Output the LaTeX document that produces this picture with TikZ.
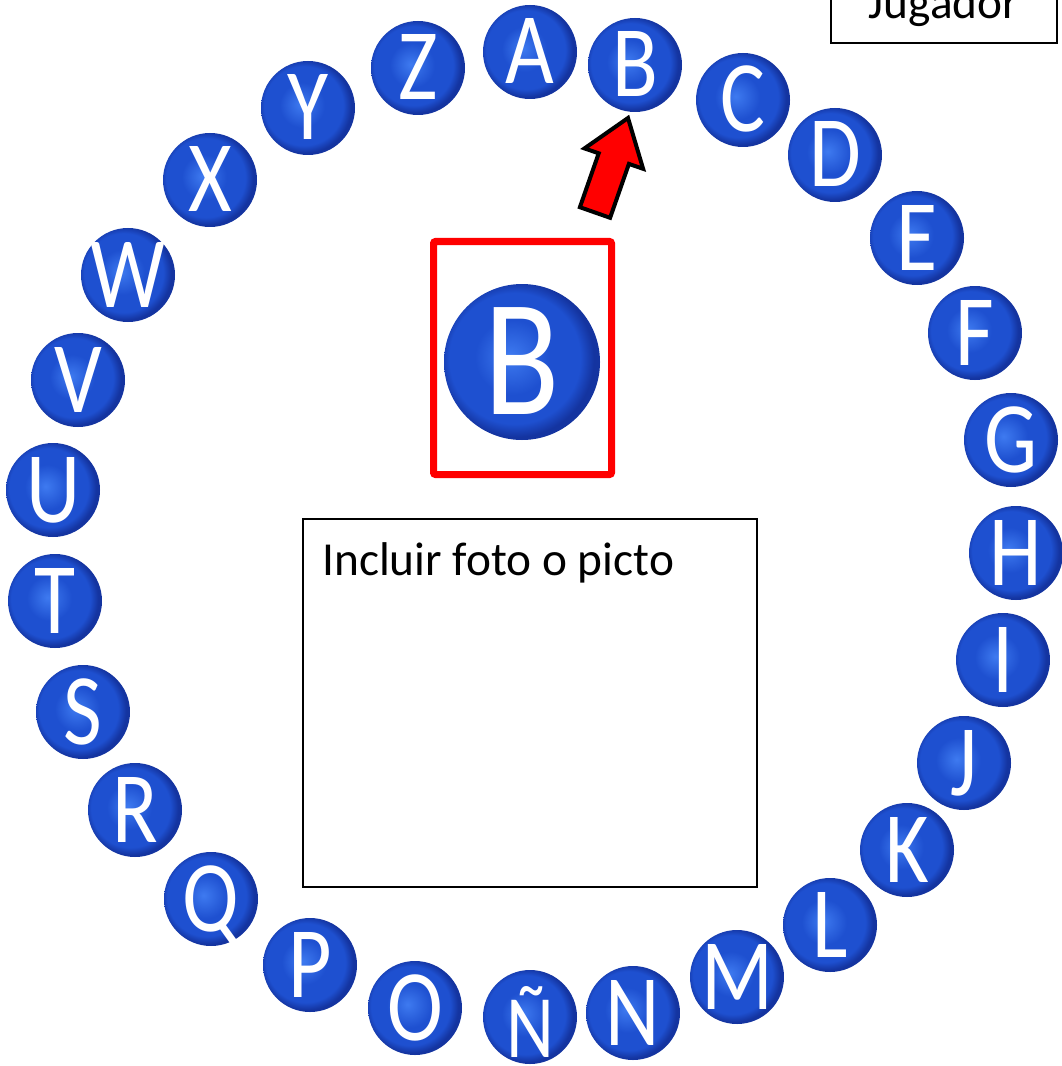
\documentclass[tikz,border=0pt]{standalone}
\usepackage{fontspec}
\setmainfont{Carlito}
\usepackage{graphicx}

\definecolor{bolaclara}{RGB}{62,122,240}
\definecolor{bolamedia}{RGB}{30,80,208}
\definecolor{bolaoscura}{RGB}{20,52,160}
\pgfdeclareradialshading{bolaazul}{\pgfpoint{-4bp}{2bp}}{color(0bp)=(bolaclara); color(12bp)=(bolamedia); color(21bp)=(bolamedia); color(25bp)=(bolaoscura); color(50bp)=(bolaoscura)}

\newcommand{\letra}[1]{\makebox[0pt]{\scalebox{0.83}[1]{#1}}}

\tikzset{
  bola/.style={circle, shade, shading=bolaazul, inner sep=0pt, minimum size=70.5pt,
    text=white, font=\fontsize{76}{80}\selectfont, text height=48pt, text depth=0pt},
  bolagrande/.style={bola, minimum size=117pt, font=\fontsize{125}{130}\selectfont, text height=79pt},
  marcorojo/.style={draw={rgb, 255:red, 255; green, 0; blue, 0}, line width=5.25pt, rounded corners=1.5pt},
  caja/.style={draw=black, line width=1.5pt, inner sep=0pt},
  rotulo/.style={font=\fontsize{35.5}{40}\selectfont, inner sep=0pt}
}

\begin{document}
\begin{tikzpicture}[x=0.75pt,y=0.75pt,yscale=-1,xscale=1]
\useasboundingbox (0,0) rectangle (1061,1066);

%Shape: Circle (ring of letters)
\foreach \l/\n/\x/\y in {A/A/530/52, B/B/635/65, C/C/743/100, D/D/835/155, E/E/917/238,
  F/F/975/333, G/G/1011/440, H/H/1016/553, I/I/1003/660, J/J/964/763, K/K/907/850,
  L/L/830/925, M/M/737/977, N/N/633/1013, O/O/415/1008, P/P/310/965, Q/Q/211/899,
  R/R/135/810, S/S/83/712, T/T/55/601, U/U/53/490, V/V/78/380, W/W/128/275,
  X/X/210/180, Y/Y/308/108, Z/Z/418/68}
  \node[bola] (letra-\n) at (\x,\y) {\letra{\l}};
\node[bola] (letra-NN) at (530,1017) {\letra{\raisebox{-6pt}{\scalebox{0.88}{Ñ}}}};

%Shape: Rectangle (current letter)
\node[marcorojo, minimum width=133.5pt, minimum height=174.75pt] (marco) at (522.5,358) {};
\node[bolagrande] (actual) at (522,362) {\letra{B}};

%Shape: Arrow
\draw [line width=3pt, miter limit=10, fill={rgb, 255:red, 255; green, 0; blue, 0}] (628,118) -- (643.1,168.8) -- (628.9,163.9) -- (610.1,217.8) -- (579.9,207.2) -- (598.7,153.3) -- (584.5,148.4) -- cycle ;

%Shape: Rectangle (photo)
\node[caja, anchor=north west, minimum width=340.5pt, minimum height=276pt] (foto) at (302,518) {};
\node[rotulo, anchor=base west] (fototexto) at ([shift={(20,57)}]foto.north west) {Incluir foto o picto};

%Shape: Rectangle (player)
\node[caja, rotulo, anchor=south, minimum width=169.5pt, inner ysep=18pt, text depth=0pt] (jugador) at (944,44) {Jugador};

\end{tikzpicture}
\end{document}
